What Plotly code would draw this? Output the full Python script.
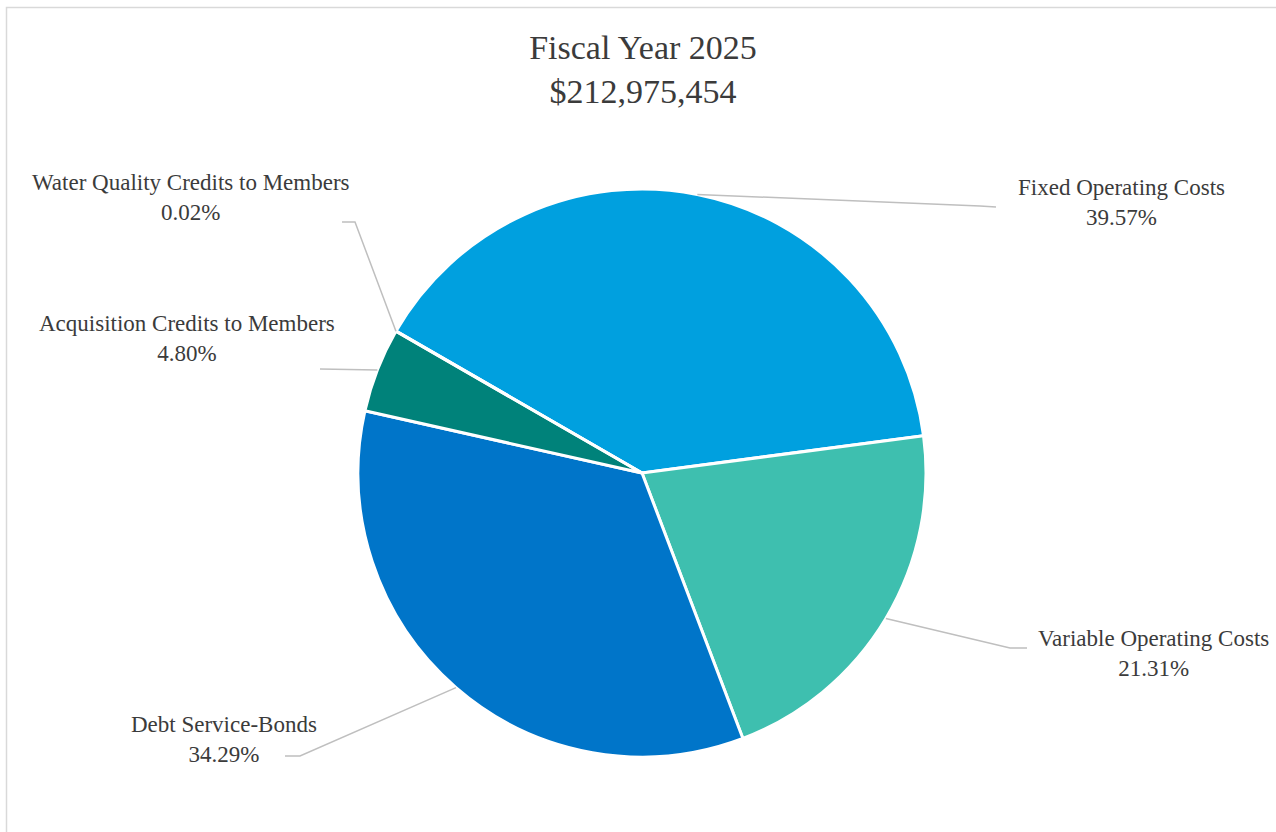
import math
import plotly.graph_objects as go

# ---- data ----
categories = ["Fixed Operating Costs", "Variable Operating Costs", "Debt Service-Bonds",
              "Acquisition Credits to Members", "Water Quality Credits to Members"]
percents = [39.57, 21.31, 34.29, 4.80, 0.02]
title_lines = ["Fiscal Year 2025", "$212,975,454"]

# ---- styles / layout ----
W, H = 1276, 832
colors = ["#00A0DF", "#3EBFAF", "#0075C9", "#00827A", "#8DC63F"]
FONT = "Liberation Serif"
TXT = "#3b3b3b"
START_ANGLE = 300.0          # degrees clockwise from 12 o'clock
CX, CY, R = 642, 473, 284    # pie center / radius in pixels

# label text centers (pixels) and leader-line label-side points (pixels)
label_pos = [(1121, 203), (1153, 653), (224, 739), (187, 338), (191, 197)]
leader_pts = [
    [(996, 207), (980, 206)],
    [(1027, 648), (1010, 648)],
    [(285, 756), (300, 756)],
    [(320, 369)],
    [(342, 222), (355, 222)],
]

def px(x):
    return x / W

def py(y):
    return 1 - y / H

fig = go.Figure(go.Pie(
    labels=categories,
    values=percents,
    sort=False,
    direction="clockwise",
    rotation=START_ANGLE,
    textinfo="none",
    hoverinfo="label+percent",
    marker=dict(colors=colors, line=dict(color="white", width=3)),
    domain=dict(x=[px(CX - R), px(CX + R)], y=[py(CY + R), py(CY - R)]),
    showlegend=False,
))

total = sum(percents)
cum = 0.0
annotations = []
shapes = []
for i, (cat, p) in enumerate(zip(categories, percents)):
    mid = START_ANGLE + (cum + p / 2) / total * 360.0
    cum += p
    a = math.radians(mid)
    ex, ey = CX + R * math.sin(a), CY - R * math.cos(a)
    pts = leader_pts[i] + [(ex, ey)]
    path = "M " + " L ".join(f"{px(x):.5f},{py(y):.5f}" for x, y in pts)
    shapes.append(dict(type="path", xref="paper", yref="paper", path=path,
                       line=dict(color="#BFBFBF", width=1.5)))
    lx, ly = label_pos[i]
    annotations.append(dict(
        x=px(lx), y=py(ly), xref="paper", yref="paper", showarrow=False,
        xanchor="center", yanchor="middle", align="center",
        text=f"{cat}<br>{p:.2f}%",
        font=dict(family=FONT, size=23, color=TXT),
    ))

# chart frame
shapes.append(dict(type="rect", xref="paper", yref="paper",
                   x0=px(6.5), y0=-0.05, x1=1.05, y1=py(7.5),
                   line=dict(color="#D9D9D9", width=1.5), fillcolor="rgba(0,0,0,0)"))

fig.update_layout(
    width=W, height=H,
    margin=dict(l=0, r=0, t=0, b=0),
    paper_bgcolor="white",
    plot_bgcolor="white",
    title=dict(text="<br>".join(title_lines), x=px(643), xanchor="center",
               y=py(59), yanchor="middle", yref="container", xref="container",
               font=dict(family=FONT, size=34, color=TXT)),
    annotations=annotations,
    shapes=shapes,
)

fig.write_html("out.html")
